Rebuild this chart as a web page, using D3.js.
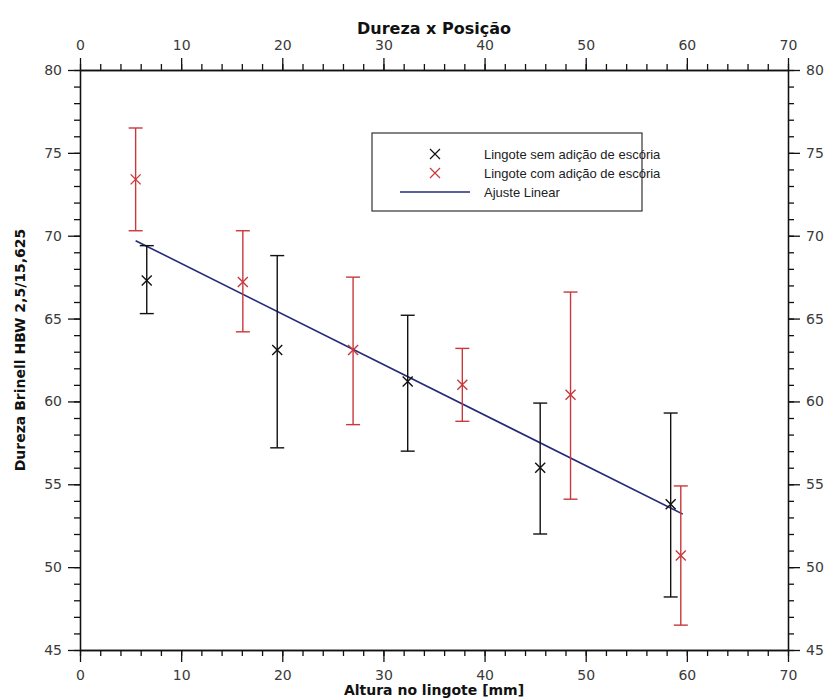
<!DOCTYPE html>
<html>
<head>
<meta charset="utf-8">
<script src="https://cdn.jsdelivr.net/npm/d3@7"></script>
<style>
  body { margin: 0; background: #fff; }
  text { font-family: "DejaVu Sans", Verdana, sans-serif; }
  .tick-label { font-size: 14px; fill: #3a3a3a; }
  .title { font-size: 16px; font-weight: bold; fill: #111; }
  .axis-title { font-size: 14px; font-weight: bold; fill: #111; }
  .legend-text { font-family: "Liberation Sans", Arial, sans-serif; font-size: 13px; fill: #222; }
</style>
</head>
<body>
<svg id="chart"></svg>
<script>
// posicao (mm), dureza media, limites da barra de erro
let semX = [6.6, 19.5, 32.4, 45.5, 58.4]
let semY = [67.3, 63.1, 61.2, 56.0, 53.8]
let semLo = [65.3, 57.2, 57.0, 52.0, 48.2]
let semHi = [69.4, 68.8, 65.2, 59.9, 59.3]

let comX = [5.5, 16.1, 27.0, 37.8, 48.5, 59.4]
let comY = [73.4, 67.2, 63.1, 61.0, 60.4, 50.7]
let comLo = [70.3, 64.2, 58.6, 58.8, 54.1, 46.5]
let comHi = [76.5, 70.3, 67.5, 63.2, 66.6, 54.9]

let fitX = [5.5, 59.6]
let fitY = [69.7, 53.2]

let xTicks = [0, 10, 20, 30, 40, 50, 60, 70]
let yTicks = [45, 50, 55, 60, 65, 70, 75, 80]
let legendLabels = ["Lingote sem adição de escória", "Lingote com adição de escória", "Ajuste Linear"]

let width = 837
let height = 698
let margin = {top: 70, bottom: 48, left: 80, right: 49}
let black = "#111"
let red = "#c8383c"
let blue = "#262a7c"

let svg = d3.select("#chart").attr("width", width).attr("height", height)
let w = width - margin.left - margin.right
let h = height - margin.top - margin.bottom

let xScale = d3.scaleLinear().domain([0, 70]).range([0, w])
let yScale = d3.scaleLinear().domain([45, 80]).range([h, 0])

let plot = svg.append("g").attr("transform", "translate(" + margin.left + "," + margin.top + ")")

let xMinor = d3.range(0, 71, 2)
let yMinor = d3.range(45, 81, 1)

function styleAxis(g) {
    g.select(".domain").attr("stroke", "#111").attr("stroke-width", 1.3)
    g.selectAll(".tick line").attr("stroke", "#111").attr("stroke-width", 1.3)
    g.selectAll(".tick text").attr("class", "tick-label").attr("font-size", null).attr("font-family", null)
}

function minor(axisFn, scale, vals) {
    return axisFn(scale).tickValues(vals).tickSize(6).tickFormat("").tickSizeOuter(0)
}

// eixos menores
plot.append("g").attr("transform", "translate(0," + h + ")").call(minor(d3.axisBottom, xScale, xMinor)).call(styleAxis)
plot.append("g").call(minor(d3.axisTop, xScale, xMinor)).call(styleAxis)
plot.append("g").call(minor(d3.axisLeft, yScale, yMinor)).call(styleAxis)
plot.append("g").attr("transform", "translate(" + w + ",0)").call(minor(d3.axisRight, yScale, yMinor)).call(styleAxis)

// eixos principais
plot.append("g").attr("transform", "translate(0," + h + ")")
    .call(d3.axisBottom(xScale).tickValues(xTicks).tickSize(12).tickPadding(8).tickSizeOuter(0)).call(styleAxis)
plot.append("g")
    .call(d3.axisTop(xScale).tickValues(xTicks).tickSize(12).tickPadding(8).tickSizeOuter(0)).call(styleAxis)
plot.append("g")
    .call(d3.axisLeft(yScale).tickValues(yTicks).tickSize(12).tickPadding(6).tickSizeOuter(0)).call(styleAxis)
plot.append("g").attr("transform", "translate(" + w + ",0)")
    .call(d3.axisRight(yScale).tickValues(yTicks).tickSize(12).tickPadding(6).tickSizeOuter(0)).call(styleAxis)

// ajuste linear
plot.append("path")
    .datum(fitX.map((x, i) => [x, fitY[i]]))
    .attr("fill", "none")
    .attr("stroke", blue)
    .attr("stroke-width", 1.6)
    .attr("d", d3.line().x(d => xScale(d[0])).y(d => yScale(d[1])))

function drawSeries(xs, ys, lo, hi, color) {
    let data = xs.map((x, i) => ({x: x, y: ys[i], lo: lo[i], hi: hi[i]}))
    let g = plot.append("g").attr("stroke", color).attr("stroke-width", 1.4).attr("fill", "none")
    let cap = 7
    data.forEach(d => {
        let cx = xScale(d.x)
        g.append("line").attr("x1", cx).attr("x2", cx).attr("y1", yScale(d.lo)).attr("y2", yScale(d.hi))
        g.append("line").attr("x1", cx - cap).attr("x2", cx + cap).attr("y1", yScale(d.lo)).attr("y2", yScale(d.lo))
        g.append("line").attr("x1", cx - cap).attr("x2", cx + cap).attr("y1", yScale(d.hi)).attr("y2", yScale(d.hi))
        let cy = yScale(d.y)
        let s = 5
        g.append("path").attr("d", "M" + (cx - s) + "," + (cy - s) + "L" + (cx + s) + "," + (cy + s) + "M" + (cx - s) + "," + (cy + s) + "L" + (cx + s) + "," + (cy - s))
    })
}

drawSeries(semX, semY, semLo, semHi, black)
drawSeries(comX, comY, comLo, comHi, red)

// legenda
let legend = svg.append("g").attr("transform", "translate(372,133)")
legend.append("rect").attr("width", 270).attr("height", 78).attr("fill", "#fff").attr("stroke", "#333").attr("stroke-width", 1.2)
let rowY = [26, 45, 64]
let colors = [black, red, blue]
legendLabels.forEach((lab, i) => {
    let cy = rowY[i] - 5
    if (i < 2) {
        let s = 5
        legend.append("path")
            .attr("d", "M" + (63 - s) + "," + (cy - s) + "L" + (63 + s) + "," + (cy + s) + "M" + (63 - s) + "," + (cy + s) + "L" + (63 + s) + "," + (cy - s))
            .attr("stroke", colors[i]).attr("stroke-width", 1.2)
    } else {
        legend.append("line").attr("x1", 28).attr("x2", 98).attr("y1", cy).attr("y2", cy)
            .attr("stroke", colors[i]).attr("stroke-width", 1.6)
    }
    legend.append("text").attr("class", "legend-text").attr("x", 112).attr("y", rowY[i]).text(lab)
})

// titulos
svg.append("text").attr("class", "title").attr("text-anchor", "middle")
    .attr("x", margin.left + w / 2).attr("y", 34).text("Dureza x Posição")
svg.append("text").attr("class", "axis-title").attr("text-anchor", "middle")
    .attr("x", margin.left + w / 2).attr("y", height - 3).text("Altura no lingote [mm]")
svg.append("text").attr("class", "axis-title").attr("text-anchor", "middle")
    .attr("transform", "translate(25," + (margin.top + h / 2 - 10) + ") rotate(-90)")
    .text("Dureza Brinell HBW 2,5/15,625")
</script>
</body>
</html>
